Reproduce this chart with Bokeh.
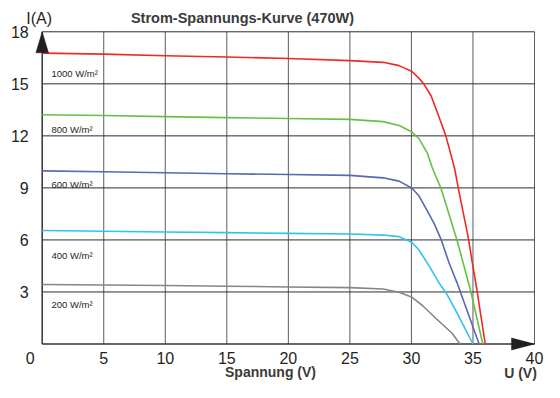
from bokeh.plotting import figure
from bokeh.models import Range1d, Label
from bokeh.core.properties import value
from bokeh.embed import file_html
from bokeh.resources import INLINE

# ---- data ----
v_1000 = [0, 5, 10, 15, 20, 25, 27.7, 29.0, 30.05, 30.6, 31.0, 31.6, 32.1, 32.8, 33.5, 33.8, 34.6, 35.3, 36.0]
i_1000 = [16.77, 16.71, 16.62, 16.55, 16.46, 16.34, 16.24, 16.05, 15.71, 15.33, 15.0, 14.3, 13.36, 12.0, 10.15, 9.02, 6.19, 3.2, 0]

v_800 = [0, 5, 10, 15, 20, 25, 27.7, 29.0, 30.05, 30.6, 31.3, 31.7, 32.4, 33.7, 34.8, 35.8]
i_800 = [13.22, 13.17, 13.11, 13.05, 13.0, 12.95, 12.82, 12.6, 12.22, 11.85, 11.0, 10.15, 8.98, 6.0, 3.1, 0]

v_600 = [0, 5, 10, 15, 20, 25, 27.7, 29.0, 30.05, 30.6, 31.2, 31.85, 32.4, 33.06, 33.7, 35.5]
i_600 = [9.98, 9.93, 9.87, 9.82, 9.77, 9.72, 9.58, 9.39, 8.98, 8.55, 7.79, 6.94, 6.05, 4.67, 3.54, 0]

v_400 = [0, 5, 10, 15, 20, 25, 27.7, 29.0, 30.05, 30.6, 31.45, 32.26, 32.9, 33.7, 35.0]
i_400 = [6.54, 6.5, 6.46, 6.42, 6.38, 6.34, 6.28, 6.19, 5.85, 5.43, 4.49, 3.5, 2.85, 1.8, 0]

v_200 = [0, 5, 10, 15, 20, 25, 27.7, 29.0, 30.05, 30.9, 32.0, 33.3, 33.95]
i_200 = [3.43, 3.4, 3.37, 3.33, 3.29, 3.25, 3.17, 2.98, 2.69, 2.22, 1.47, 0.62, 0]

curve_labels = ["1000 W/m²", "800 W/m²", "600 W/m²", "400 W/m²", "200 W/m²"]
label_v = [0.75, 0.75, 0.75, 0.75, 0.75]
label_i = [15.58, 12.35, 9.2, 5.1, 2.3]

x_ticks = [5, 10, 15, 20, 25, 30, 35, 40]
y_ticks = [3, 6, 9, 12, 15, 18]
x_tick_labels = [str(t) for t in x_ticks]
y_tick_labels = [str(t) for t in y_ticks]
X_MAX = 40
Y_MAX = 18

colors = ["#EE2A24", "#6BBE45", "#5A68B0", "#2EC4EE", "#8C8484"]
FONT = "Liberation Sans"
TXT = "#231F20"

# ---- layout (pixels on the canvas) ----
W, H = 544, 382
FL, FR, FT, FB = 41.7, 534.0, 31.3, 343.5
sx = (FR - FL) / X_MAX
sy = (FB - FT) / Y_MAX

p = figure(width=W, height=H, output_backend="svg", toolbar_location=None,
           x_axis_location=None, y_axis_location=None,
           x_range=Range1d(-FL / sx, (W - FL) / sx),
           y_range=Range1d(-(H - FB) / sy, Y_MAX + FT / sy),
           min_border=0)
p.grid.visible = False
p.outline_line_color = None
p.background_fill_color = "white"
p.border_fill_color = "white"

# grid lines drawn from the tick lists
p.segment(x0=x_ticks, y0=[0] * len(x_ticks), x1=x_ticks, y1=[Y_MAX] * len(x_ticks),
          line_color="#5c5c5c", line_width=1)
p.segment(x0=[0] * len(y_ticks), y0=y_ticks, x1=[X_MAX] * len(y_ticks), y1=y_ticks,
          line_color="#2c2c2c", line_width=1)
# axis lines
p.segment(x0=[0, 0], y0=[0, 0], x1=[0, X_MAX], y1=[Y_MAX, 0], line_color="#333333", line_width=1.5)

# curves
series = [(v_1000, i_1000), (v_800, i_800), (v_600, i_600), (v_400, i_400), (v_200, i_200)]
for (vv, ii), c in zip(series, colors):
    p.line(vv, ii, line_color=c, line_width=1.6, line_join="round")

# arrows
ah_w, ah_l = 6.3, 21.0
p.patch([-ah_w / sx, ah_w / sx, 0], [Y_MAX - ah_l / sy, Y_MAX - ah_l / sy, Y_MAX],
        fill_color="#231F20", line_color="#231F20", line_width=0.5)
ax_h, ax_l = 6.0, 23.0
p.patch([X_MAX - ax_l / sx, X_MAX - ax_l / sx, X_MAX], [-ax_h / sy, ax_h / sy, 0],
        fill_color="#231F20", line_color="#231F20", line_width=0.5)

# tick labels
p.text(x=x_ticks, y=[0] * len(x_ticks), text=x_tick_labels, y_offset=13.5,
       text_font=value(FONT), text_font_size="16px", text_color=TXT,
       text_align="center", text_baseline="middle")
p.text(x=[0] * len(y_ticks), y=y_ticks, text=y_tick_labels, x_offset=-13.5,
       text_font=value(FONT), text_font_size="16px", text_color=TXT,
       text_align="right", text_baseline="middle")
p.add_layout(Label(x=0, y=0, x_offset=-12, y_offset=-13.5, text="0", text_font=FONT,
                   text_font_size="16px", text_color=TXT, text_align="center", text_baseline="middle"))

# curve labels
for t, lx, ly in zip(curve_labels, label_v, label_i):
    p.add_layout(Label(x=lx, y=ly, text=t, text_font=FONT, text_font_size="9.5px",
                       text_color=TXT, text_baseline="middle", text_align="left"))

# titles
p.add_layout(Label(x=0, y=Y_MAX, x_offset=-3, y_offset=13, text="I(A)", text_font=FONT,
                   text_font_size="16px", text_color=TXT, text_align="center", text_baseline="middle"))
p.add_layout(Label(x=(242 - FL) / sx, y=Y_MAX, y_offset=14, text="Strom-Spannungs-Kurve (470W)",
                   text_font=FONT, text_font_size="14.5px", text_font_style="bold", text_color="#3a3a3a",
                   text_align="center", text_baseline="middle"))
p.add_layout(Label(x=(270 - FL) / sx, y=0, y_offset=-(371 - FB), text="Spannung (V)", text_font=FONT,
                   text_font_size="14px", text_font_style="bold", text_color="#3a3a3a",
                   text_align="center", text_baseline="middle"))
p.add_layout(Label(x=(520 - FL) / sx, y=0, y_offset=-(372 - FB), text="U (V)", text_font=FONT,
                   text_font_size="14px", text_font_style="bold", text_color="#3a3a3a",
                   text_align="center", text_baseline="middle"))

open("out.html", "w").write(file_html(p, INLINE))
